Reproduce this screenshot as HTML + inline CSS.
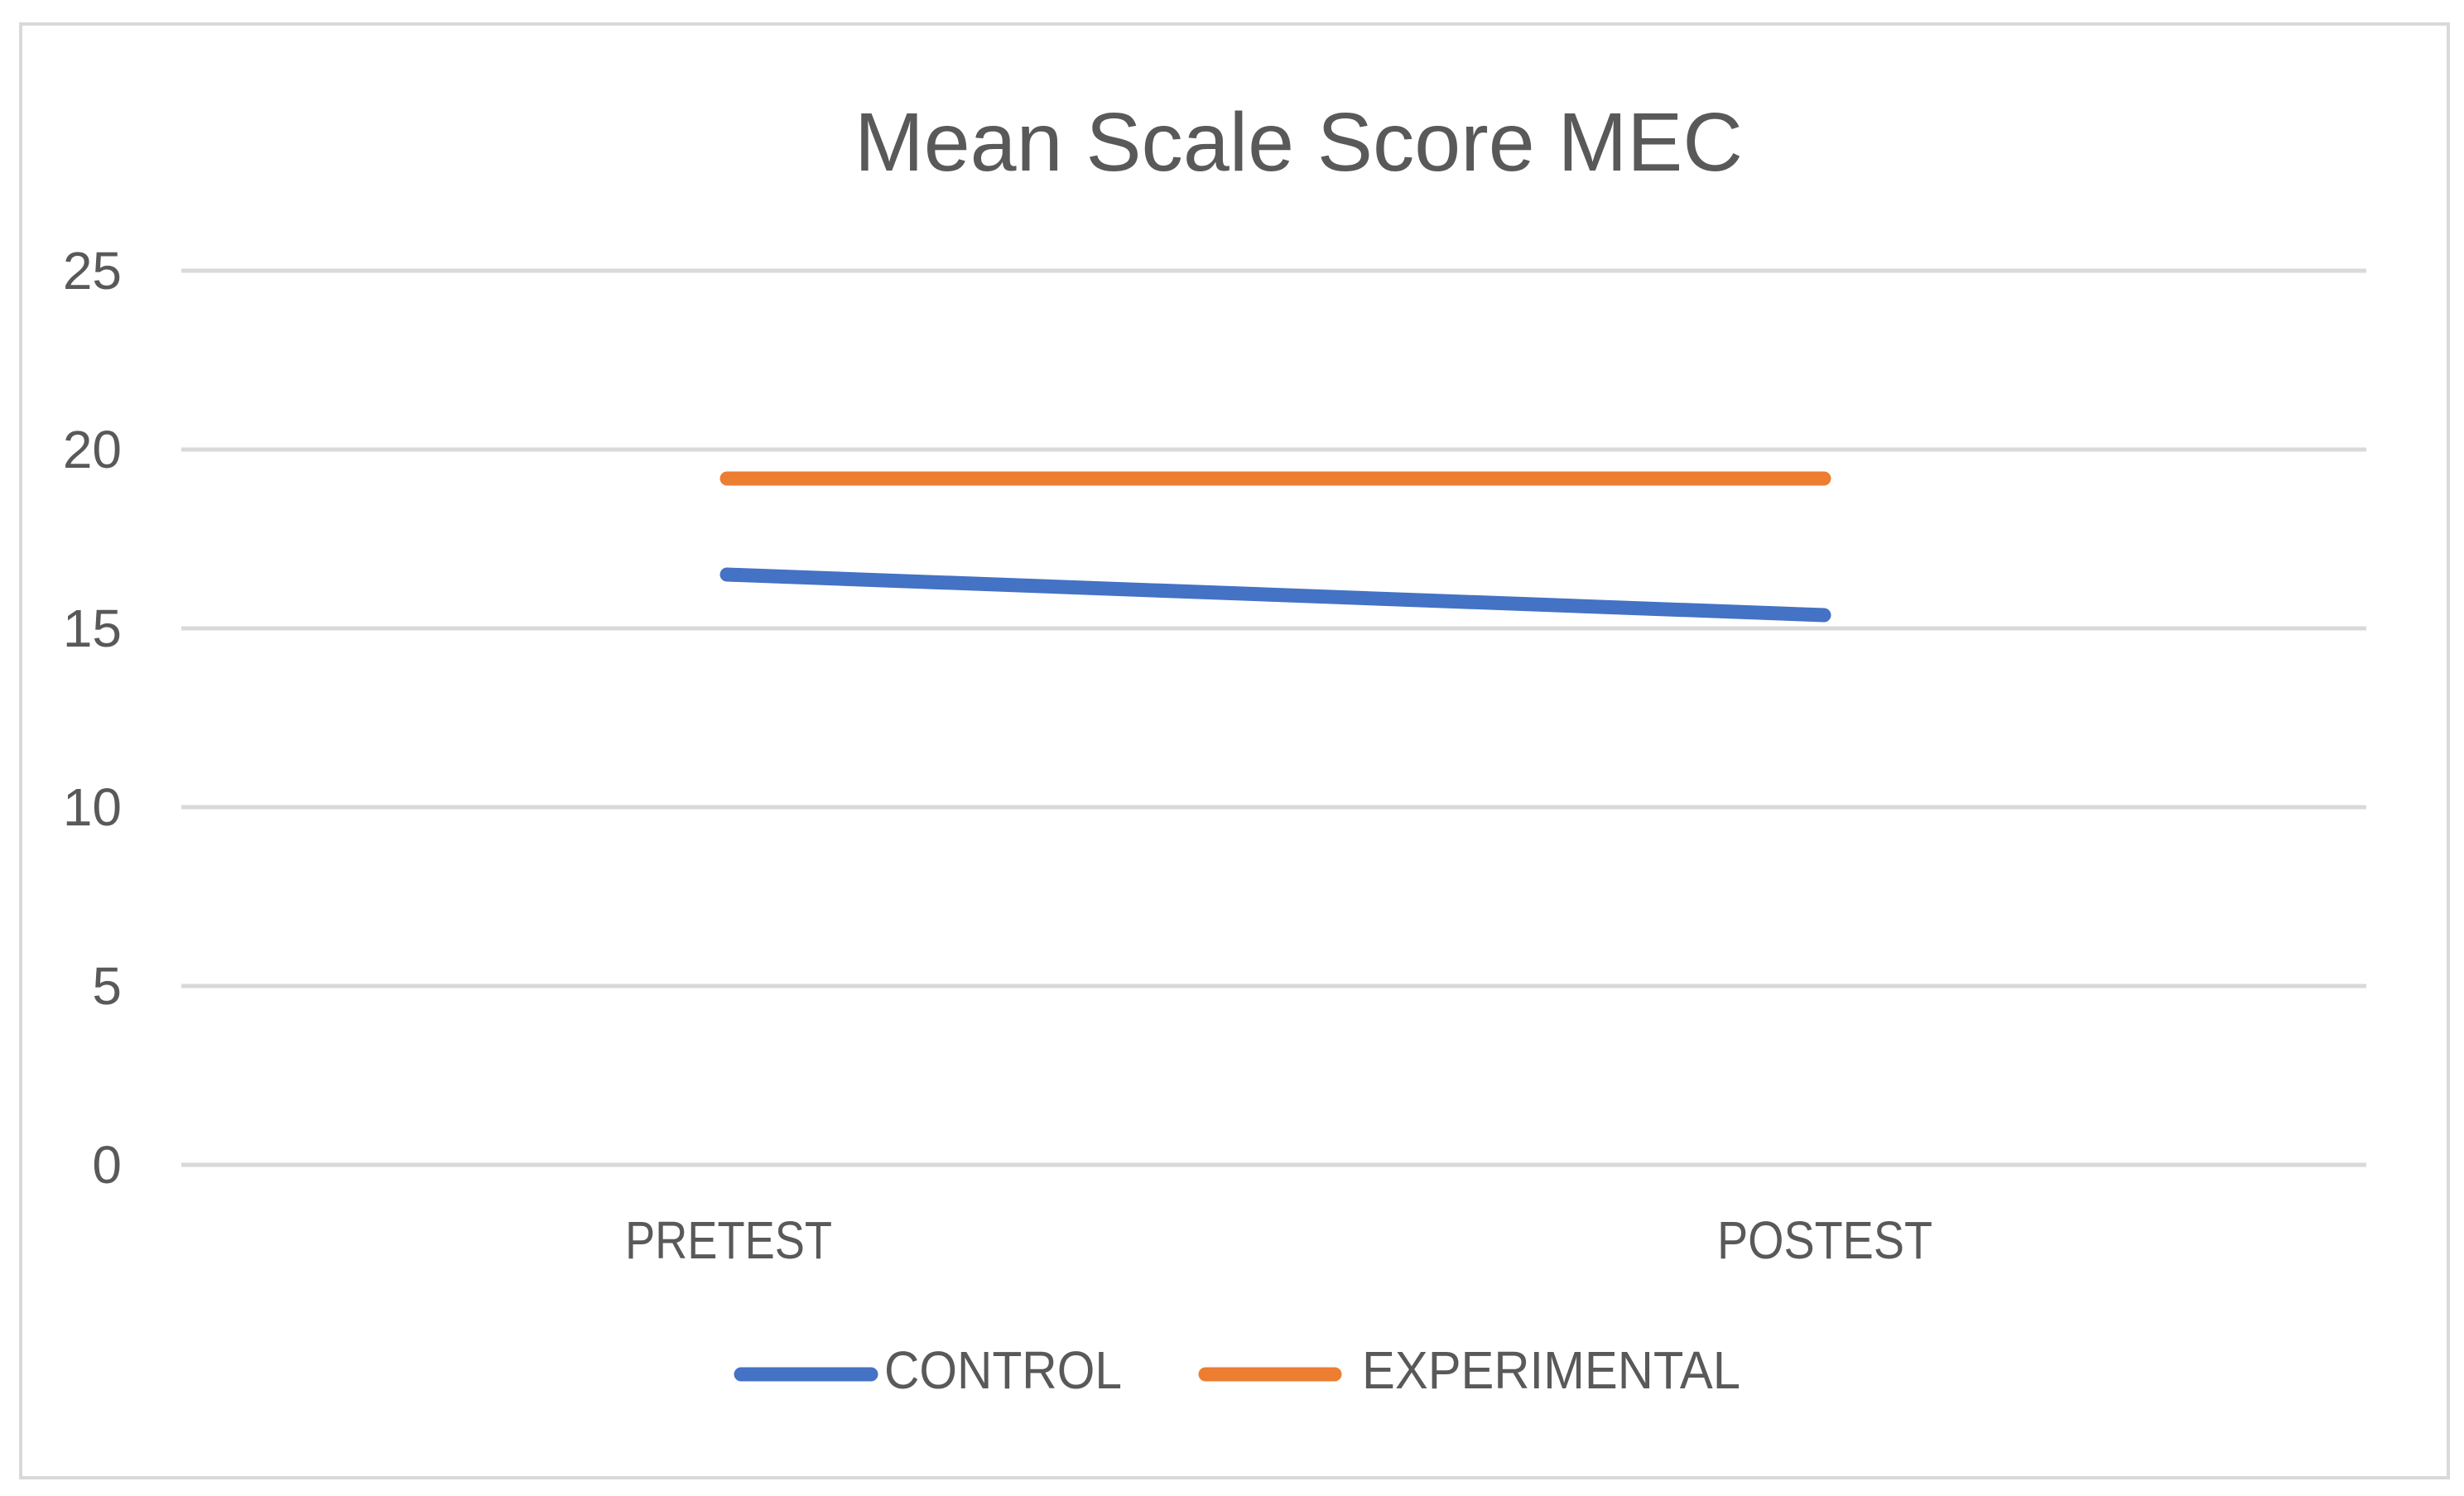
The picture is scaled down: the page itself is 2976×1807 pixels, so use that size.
<!DOCTYPE html>
<html><head><meta charset="utf-8"><style>
html,body{margin:0;padding:0;background:#fff;}
svg{display:block;}
text{font-family:"Liberation Sans",sans-serif;fill:#595959;}
</style></head><body>
<svg width="2976" height="1807" viewBox="0 0 2976 1807" xmlns="http://www.w3.org/2000/svg">
<rect x="25" y="29" width="2932" height="1756" fill="#fff" stroke="#d9d9d9" stroke-width="4"/>
<text x="1032" y="206" font-size="100" textLength="1073" lengthAdjust="spacingAndGlyphs">Mean Scale Score  MEC</text>
<g stroke="#d9d9d9" stroke-width="5">
<line x1="219" y1="327" x2="2858" y2="327"/>
<line x1="219" y1="543" x2="2858" y2="543"/>
<line x1="219" y1="759" x2="2858" y2="759"/>
<line x1="219" y1="975" x2="2858" y2="975"/>
<line x1="219" y1="1191" x2="2858" y2="1191"/>
<line x1="219" y1="1407" x2="2858" y2="1407"/>
</g>
<g font-size="64" text-anchor="end">
<text x="147" y="349">25</text>
<text x="147" y="565">20</text>
<text x="147" y="781">15</text>
<text x="147" y="997">10</text>
<text x="147" y="1213">5</text>
<text x="147" y="1429">0</text>
</g>
<line x1="878" y1="578" x2="2203" y2="578" stroke="#ED7D31" stroke-width="17" stroke-linecap="round"/>
<line x1="878" y1="694" x2="2203" y2="743" stroke="#4472C4" stroke-width="17" stroke-linecap="round"/>
<text x="755" y="1520" font-size="64" textLength="250" lengthAdjust="spacingAndGlyphs">PRETEST</text>
<text x="2074" y="1520" font-size="64" textLength="260" lengthAdjust="spacingAndGlyphs">POSTEST</text>
<line x1="895" y1="1660" x2="1052" y2="1660" stroke="#4472C4" stroke-width="17" stroke-linecap="round"/>
<text x="1068" y="1677" font-size="64" textLength="287" lengthAdjust="spacingAndGlyphs">CONTROL</text>
<line x1="1456" y1="1660" x2="1612" y2="1660" stroke="#ED7D31" stroke-width="17" stroke-linecap="round"/>
<text x="1645" y="1677" font-size="64" textLength="457" lengthAdjust="spacingAndGlyphs">EXPERIMENTAL</text>
</svg>
</body></html>
